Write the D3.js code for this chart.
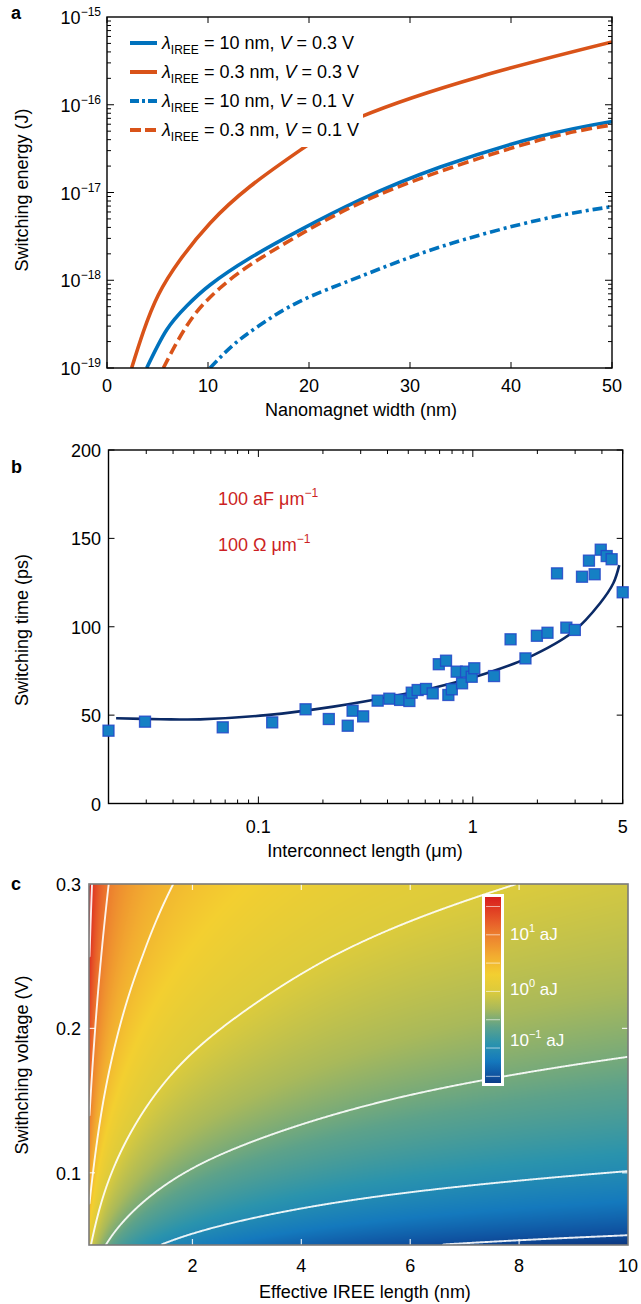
<!DOCTYPE html>
<html>
<head>
<meta charset="utf-8">
<script src="https://cdn.jsdelivr.net/npm/d3@7"></script>
<style>
  body { margin: 0; background: #fff; }
  svg { display: block; }
  text { font-family: "Liberation Sans", Arial, Helvetica, sans-serif; }
</style>
</head>
<body>
<svg id="fig" width="641" height="1304"></svg>
<script>
// ---- panel a: switching energy (J) vs nanomagnet width (nm) ----
const aWidthBlueSolid = [3.93, 5.9, 7.89, 10.2, 14.16, 19.1, 25.05, 33, 42.9, 50];
const aEnergyBlueSolid = [1e-19, 2.71e-19, 5.09e-19, 8.83e-19, 1.79e-18, 3.72e-18, 8.22e-18, 1.95e-17, 4.37e-17, 6.46e-17];
const aWidthOrangeSolid = [2.44, 3.59, 5.08, 7.23, 10.2, 14.16, 19.1, 25.05, 36.9, 50];
const aEnergyOrangeSolid = [1e-19, 2.57e-19, 6.79e-19, 1.7e-18, 4.47e-18, 1.17e-17, 3.02e-17, 7.24e-17, 2.09e-16, 5.19e-16];
const aWidthBlueDashDot = [10.2, 12.5, 15.15, 19.1, 25.05, 33, 42.9, 50];
const aEnergyBlueDashDot = [1e-19, 1.83e-19, 3.09e-19, 5.75e-19, 1.1e-18, 2.4e-18, 4.9e-18, 6.9e-18];
const aWidthOrangeDashed = [5.58, 7.06, 8.88, 11.19, 14.16, 19.1, 25.05, 33, 42.9, 50];
const aEnergyOrangeDashed = [1e-19, 2.09e-19, 4.35e-19, 8.16e-19, 1.49e-18, 3.31e-18, 7.59e-18, 1.74e-17, 3.98e-17, 5.89e-17];
const aLegendLambda = ["10", "0.3", "10", "0.3"];
const aLegendVolt = ["0.3", "0.3", "0.1", "0.1"];
const aXTicks = [0, 10, 20, 30, 40, 50];
const aYExponents = [-15, -16, -17, -18, -19];

// ---- panel b: switching time (ps) vs interconnect length (um) ----
const bLength = [0.02, 0.0296, 0.0682, 0.116, 0.166, 0.213, 0.261, 0.275, 0.308, 0.36, 0.408, 0.458, 0.506, 0.519, 0.553, 0.605, 0.65, 0.694, 0.75, 0.769, 0.798, 0.841, 0.891, 0.93, 0.988, 1.016, 1.256, 1.5, 1.76, 1.99, 2.23, 2.47, 2.73, 2.99, 3.23, 3.48, 3.7, 3.95, 4.21, 4.44, 5.0];
const bTime = [41.2, 46.3, 43.1, 45.9, 53.3, 47.8, 44.0, 52.5, 49.3, 58.2, 59.3, 58.6, 58.0, 62.7, 64.2, 64.8, 62.3, 78.8, 80.8, 61.4, 64.6, 74.6, 68.0, 74.6, 71.7, 76.5, 72.1, 92.9, 82.1, 94.9, 96.6, 130.2, 99.5, 98.2, 128.3, 137.4, 129.7, 143.6, 140.0, 138.2, 119.5];
const bFitLength = [0.0217, 0.035, 0.0535, 0.109, 0.224, 0.46, 0.703, 1.16, 1.78, 2.94, 3.92, 4.52, 4.82];
const bFitTime = [48.2, 47.7, 47.6, 50.0, 54.8, 61.5, 66.3, 73.7, 82.1, 97.2, 113.3, 124.6, 134.9];
const bXLabels = [0.1, 1, 5];
const bYTicks = [0, 50, 100, 150, 200];

// ---- panel c: log10 switching energy (aJ), rows = voltage, columns = IREE length ----
const cLambda = [0.1, 0.178, 0.316, 0.562, 1, 1.78, 3.16, 5.62, 10];
const cVoltage = [0.05, 0.1, 0.15, 0.2, 0.25, 0.3];
const cLogEnergy = [
  [0.14, -0.12, -0.39, -0.64, -0.87, -1.09, -1.28, -1.47, -1.61],
  [0.75, 0.49, 0.21, -0.04, -0.27, -0.49, -0.68, -0.86, -1.01],
  [1.10, 0.84, 0.56, 0.31, 0.08, -0.14, -0.32, -0.51, -0.66],
  [1.35, 1.09, 0.81, 0.56, 0.33, 0.11, -0.07, -0.26, -0.41],
  [1.54, 1.28, 1.01, 0.75, 0.53, 0.31, 0.12, -0.07, -0.21],
  [1.70, 1.44, 1.17, 0.91, 0.68, 0.47, 0.28, 0.09, -0.06]
];
const cContourLevels = [-1.5, -1, -0.5, 0, 0.5, 1, 1.5];
const cColorStops = [-1.65, -1.45, -1.2, -0.9, -0.6, -0.3, 0, 0.3, 0.6, 1.0, 1.3, 1.65];
const cColors = ["#0a2f78", "#0f52a0", "#1479bd", "#2a93ad", "#5da28a", "#a9b95a", "#dccb3c", "#f3cf30", "#f2ad30", "#ec7b2e", "#e44d26", "#d7191c"];
const cXTicks = [2, 4, 6, 8, 10];
const cYTicks = [0.1, 0.2, 0.3];
const cBarLabels = [1, 0, -1];

const blue = "#0072bd", orange = "#d95319";
const svg = d3.select("#fig");

function sup(sel, base, exp, size) {
  sel.append("tspan").text(base);
  sel.append("tspan").attr("font-size", size).attr("dy", -8).text(exp);
}

// ================= panel a =================
const A = { l: 107, r: 612, t: 17, b: 368 };
const xA = d3.scaleLinear().domain([0, 50]).range([A.l, A.r]);
const yA = d3.scaleLog().domain([1e-19, 1e-15]).range([A.b, A.t]);

svg.append("clipPath").attr("id", "clipA").append("rect")
  .attr("x", A.l).attr("y", A.t).attr("width", A.r - A.l).attr("height", A.b - A.t);

const seriesA = [
  { w: aWidthBlueSolid, e: aEnergyBlueSolid, color: blue, dash: null },
  { w: aWidthOrangeSolid, e: aEnergyOrangeSolid, color: orange, dash: null },
  { w: aWidthBlueDashDot, e: aEnergyBlueDashDot, color: blue, dash: "10,4,3,4" },
  { w: aWidthOrangeDashed, e: aEnergyOrangeDashed, color: orange, dash: "11,5" }
];
const lineA = d3.line().x(d => xA(d[0])).y(d => yA(d[1])).curve(d3.curveNatural);
const gA = svg.append("g").attr("clip-path", "url(#clipA)");
seriesA.forEach(s => {
  gA.append("path").datum(d3.zip(s.w, s.e))
    .attr("d", lineA).attr("fill", "none")
    .attr("stroke", s.color).attr("stroke-width", 3.6)
    .attr("stroke-dasharray", s.dash);
});

// legend with white backing
svg.append("rect").attr("x", 121).attr("y", 27).attr("width", 242).attr("height", 120).attr("fill", "#fff");
seriesA.forEach((s, i) => {
  const y = 43 + i * 29;
  svg.append("line").attr("x1", 130).attr("x2", 157).attr("y1", y).attr("y2", y)
    .attr("stroke", s.color).attr("stroke-width", 4).attr("stroke-dasharray", s.dash ? (i === 2 ? "9,3,3,3" : "11,4") : null);
  const t = svg.append("text").attr("x", 162).attr("y", y + 6).attr("font-size", 18);
  t.append("tspan").attr("font-style", "italic").text("λ");
  t.append("tspan").attr("font-size", 12).attr("dy", 5).text("IREE");
  t.append("tspan").attr("dy", -5).text(" = " + aLegendLambda[i] + " nm, ");
  t.append("tspan").attr("font-style", "italic").text("V");
  t.append("tspan").text(" = " + aLegendVolt[i] + " V");
});

// ticks panel a
const gAx = svg.append("g").attr("stroke", "#000").attr("stroke-width", 1);
aXTicks.forEach(v => {
  gAx.append("line").attr("x1", xA(v)).attr("x2", xA(v)).attr("y1", A.b).attr("y2", A.b - 6);
  gAx.append("line").attr("x1", xA(v)).attr("x2", xA(v)).attr("y1", A.t).attr("y2", A.t + 6);
});
for (let e = -19; e < -15; e++) {
  for (let k = 1; k <= 9; k++) {
    const y = yA(k * Math.pow(10, e));
    const len = k === 1 ? 7 : 4;
    gAx.append("line").attr("x1", A.l).attr("x2", A.l + len).attr("y1", y).attr("y2", y);
    gAx.append("line").attr("x1", A.r).attr("x2", A.r - len).attr("y1", y).attr("y2", y);
  }
}
svg.append("rect").attr("x", A.l).attr("y", A.t).attr("width", A.r - A.l).attr("height", A.b - A.t)
  .attr("fill", "none").attr("stroke", "#000").attr("stroke-width", 1.4);

aXTicks.forEach(v => {
  svg.append("text").attr("x", xA(v)).attr("y", A.b + 24).attr("text-anchor", "middle")
    .attr("font-size", 18).text(v);
});
aYExponents.forEach(e => {
  const t = svg.append("text").attr("x", 101).attr("y", yA(Math.pow(10, e)) + 7)
    .attr("text-anchor", "end").attr("font-size", 18);
  sup(t, "10", "\u2212" + (-e), 12);
});
svg.append("text").attr("x", 361).attr("y", 416).attr("text-anchor", "middle").attr("font-size", 18)
  .text("Nanomagnet width (nm)");
svg.append("text").attr("transform", "translate(28,190) rotate(-90)").attr("text-anchor", "middle")
  .attr("font-size", 18).text("Switching energy (J)");
svg.append("text").attr("x", 11).attr("y", 19).attr("font-size", 18).attr("font-weight", "bold").text("a");

// ================= panel b =================
const B = { l: 108.5, r: 622.7, t: 450, b: 803.5 };
const xB = d3.scaleLog().domain([0.02, 5]).range([B.l, B.r]);
const yB = d3.scaleLinear().domain([0, 200]).range([B.b, B.t]);

const gBx = svg.append("g").attr("stroke", "#000").attr("stroke-width", 1);
[0.01, 0.1, 1].forEach(dec => {
  for (let k = 1; k <= 9; k++) {
    const v = k * dec;
    if (v < 0.02 || v > 5) continue;
    const x = xB(v);
    const len = k === 1 ? 7 : 4;
    gBx.append("line").attr("x1", x).attr("x2", x).attr("y1", B.b).attr("y2", B.b - len);
    gBx.append("line").attr("x1", x).attr("x2", x).attr("y1", B.t).attr("y2", B.t + len);
  }
});
bYTicks.forEach(v => {
  gBx.append("line").attr("x1", B.l).attr("x2", B.l + 6).attr("y1", yB(v)).attr("y2", yB(v));
  gBx.append("line").attr("x1", B.r).attr("x2", B.r - 6).attr("y1", yB(v)).attr("y2", yB(v));
});
svg.append("rect").attr("x", B.l).attr("y", B.t).attr("width", B.r - B.l).attr("height", B.b - B.t)
  .attr("fill", "none").attr("stroke", "#000").attr("stroke-width", 1.4);

const lineB = d3.line().x(d => xB(d[0])).y(d => yB(d[1])).curve(d3.curveCatmullRom.alpha(0.5));
svg.append("path").datum(d3.zip(bFitLength, bFitTime)).attr("d", lineB)
  .attr("fill", "none").attr("stroke", "#0b2a66").attr("stroke-width", 2.6);

svg.append("g").selectAll("rect.pt").data(d3.zip(bLength, bTime)).join("rect")
  .attr("x", d => xB(d[0]) - 5.5).attr("y", d => yB(d[1]) - 5.5)
  .attr("width", 11).attr("height", 11)
  .attr("fill", "#1580c4").attr("stroke", "#2246c8").attr("stroke-width", 1.3)
  .attr("stroke-opacity", 0.85);

bXLabels.forEach(v => {
  svg.append("text").attr("x", xB(v)).attr("y", B.b + 29).attr("text-anchor", "middle")
    .attr("font-size", 18).text(v);
});
bYTicks.forEach(v => {
  svg.append("text").attr("x", 101).attr("y", yB(v) + 7).attr("text-anchor", "end")
    .attr("font-size", 18).text(v);
});
const red = "#cc1f24";
const tb1 = svg.append("text").attr("x", 218).attr("y", 505).attr("font-size", 18).attr("fill", red);
sup(tb1, "100 aF \u03bcm", "\u22121", 12);
const tb2 = svg.append("text").attr("x", 218).attr("y", 551).attr("font-size", 18).attr("fill", red);
sup(tb2, "100 \u03a9 \u03bcm", "\u22121", 12);
svg.append("text").attr("x", 365).attr("y", 857).attr("text-anchor", "middle").attr("font-size", 18)
  .text("Interconnect length (\u03bcm)");
svg.append("text").attr("transform", "translate(28,630) rotate(-90)").attr("text-anchor", "middle")
  .attr("font-size", 18).text("Switching time (ps)");
svg.append("text").attr("x", 11).attr("y", 473).attr("font-size", 18).attr("font-weight", "bold").text("b");

// ================= panel c =================
const C = { l: 89, r: 628, t: 884, b: 1245 };
const xC = d3.scaleLinear().domain([0.1, 10]).range([C.l, C.r]);
const yC = d3.scaleLinear().domain([0.05, 0.3]).range([C.b, C.t]);
const color = d3.scaleLinear().domain(cColorStops).range(cColors).interpolate(d3.interpolateRgb).clamp(true);

// smooth each voltage row along log(lambda), then blend rows in log(V)
const rowInterp = cLogEnergy.map(row => d3.interpolateBasis(row));
const tLam = d3.scaleLinear().domain(d3.extent(cLambda, Math.log10)).range([0, 1]).clamp(true);
const LY = cVoltage.map(Math.log10);
function logEnergyAt(lam, volt) {
  const t = tLam(Math.log10(lam)), ly = Math.log10(volt);
  const j = Math.max(0, Math.min(LY.length - 2, d3.bisectRight(LY, ly) - 1));
  const ty = (ly - LY[j]) / (LY[j + 1] - LY[j]);
  return rowInterp[j](t) * (1 - ty) + rowInterp[j + 1](t) * ty;
}

const nx = C.r - C.l, ny = C.b - C.t;
const grid = new Float64Array(nx * ny);
const canvas = document.createElement("canvas");
canvas.width = nx; canvas.height = ny;
const ctx = canvas.getContext("2d");
const img = ctx.createImageData(nx, ny);
for (let j = 0; j < ny; j++) {
  const volt = yC.invert(C.t + j + 0.5);
  for (let i = 0; i < nx; i++) {
    const lam = xC.invert(C.l + i + 0.5);
    const v = logEnergyAt(lam, volt);
    grid[j * nx + i] = v;
    const c = d3.rgb(color(v));
    const k = (j * nx + i) * 4;
    img.data[k] = c.r; img.data[k + 1] = c.g; img.data[k + 2] = c.b; img.data[k + 3] = 255;
  }
}
ctx.putImageData(img, 0, 0);
svg.append("image").attr("x", C.l).attr("y", C.t).attr("width", nx).attr("height", ny)
  .attr("preserveAspectRatio", "none").attr("href", canvas.toDataURL());

// contour lines (skip segments lying on the grid border)
const contours = d3.contours().size([nx, ny]).thresholds(cContourLevels)(grid);
const eps = 0.01;
function onBorder(p, q) {
  return (p[0] <= eps && q[0] <= eps) || (p[0] >= nx - eps && q[0] >= nx - eps) ||
         (p[1] <= eps && q[1] <= eps) || (p[1] >= ny - eps && q[1] >= ny - eps);
}
contours.forEach(g => {
  let d = "";
  g.coordinates.forEach(poly => poly.forEach(ring => {
    let pen = false;
    for (let k = 1; k < ring.length; k++) {
      const p = ring[k - 1], q = ring[k];
      if (onBorder(p, q)) { pen = false; continue; }
      if (!pen) { d += "M" + (C.l + p[0]) + "," + (C.t + p[1]); pen = true; }
      d += "L" + (C.l + q[0]) + "," + (C.t + q[1]);
    }
  }));
  svg.append("path").attr("d", d).attr("fill", "none")
    .attr("stroke", "#fff").attr("stroke-opacity", 0.9).attr("stroke-width", 1.9)
    .attr("stroke-linejoin", "round");
});

// white inner ticks
const gCx = svg.append("g").attr("stroke", "#fff").attr("stroke-width", 1.2).attr("stroke-opacity", 0.85);
cXTicks.slice(0, -1).forEach(v => {
  gCx.append("line").attr("x1", xC(v)).attr("x2", xC(v)).attr("y1", C.b).attr("y2", C.b - 6);
  gCx.append("line").attr("x1", xC(v)).attr("x2", xC(v)).attr("y1", C.t).attr("y2", C.t + 6);
});
cYTicks.slice(0, -1).forEach(v => {
  gCx.append("line").attr("x1", C.l).attr("x2", C.l + 6).attr("y1", yC(v)).attr("y2", yC(v));
  gCx.append("line").attr("x1", C.r).attr("x2", C.r - 6).attr("y1", yC(v)).attr("y2", yC(v));
});
svg.append("rect").attr("x", C.l).attr("y", C.t).attr("width", nx).attr("height", ny)
  .attr("fill", "none").attr("stroke", "#7a7a7a").attr("stroke-width", 1.6);

// colour bar
const cb = { x: 486, w: 14, t: 898, b: 1082 };
const yCb = d3.scaleLinear().domain([1.65, -1.6]).range([cb.t, cb.b]);
const grad = svg.append("defs").append("linearGradient").attr("id", "cbGrad")
  .attr("x1", 0).attr("x2", 0).attr("y1", 0).attr("y2", 1);
d3.range(0, 1.0001, 0.02).forEach(o => {
  grad.append("stop").attr("offset", o).attr("stop-color", color(yCb.invert(cb.t + o * (cb.b - cb.t))));
});
svg.append("rect").attr("x", cb.x - 2.5).attr("y", cb.t - 2.5).attr("width", cb.w + 5).attr("height", cb.b - cb.t + 5)
  .attr("fill", "url(#cbGrad)").attr("stroke", "#fff").attr("stroke-width", 3);
cContourLevels.forEach(v => {
  svg.append("line").attr("x1", cb.x).attr("x2", cb.x + cb.w).attr("y1", yCb(v)).attr("y2", yCb(v))
    .attr("stroke", "#fff").attr("stroke-opacity", 0.6).attr("stroke-width", 1);
});
cBarLabels.forEach((e, i) => {
  const ly = [940, 995, 1046][i];
  const t = svg.append("text").attr("x", 510).attr("y", ly).attr("font-size", 17).attr("fill", "#fff");
  t.append("tspan").text("10");
  t.append("tspan").attr("font-size", 11).attr("dy", -8).text(e < 0 ? "\u2212" + (-e) : e);
  t.append("tspan").attr("dy", 8).text(" aJ");
});

cXTicks.forEach(v => {
  svg.append("text").attr("x", xC(v)).attr("y", C.b + 27).attr("text-anchor", "middle")
    .attr("font-size", 18).text(v);
});
cYTicks.forEach(v => {
  svg.append("text").attr("x", 81).attr("y", yC(v) + 7).attr("text-anchor", "end")
    .attr("font-size", 18).text(v);
});
svg.append("text").attr("x", 365).attr("y", 1298).attr("text-anchor", "middle").attr("font-size", 18)
  .text("Effective IREE length (nm)");
svg.append("text").attr("transform", "translate(28,1065) rotate(-90)").attr("text-anchor", "middle")
  .attr("font-size", 18).text("Swithching voltage (V)");
svg.append("text").attr("x", 11).attr("y", 890).attr("font-size", 18).attr("font-weight", "bold").text("c");
</script>
</body>
</html>
